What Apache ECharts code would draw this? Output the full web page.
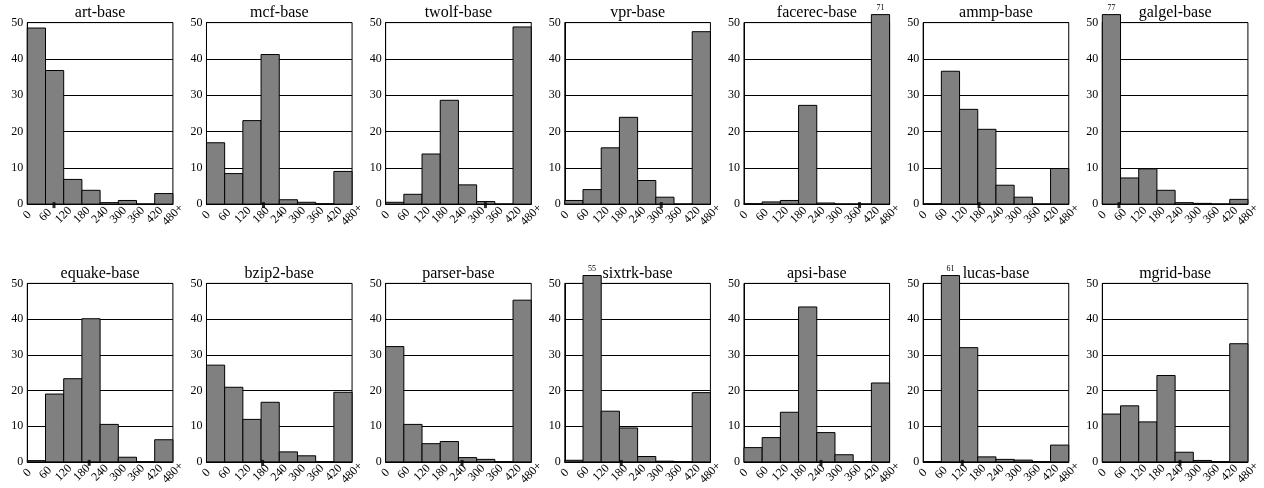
<!DOCTYPE html>
<html>
<head>
<meta charset="utf-8">
<script src="https://cdn.jsdelivr.net/npm/echarts@6/dist/echarts.min.js"></script>
<style>
html,body{margin:0;padding:0;background:#fff;}
#chart{width:1264px;height:488px;}
</style>
</head>
<body>
<div id="chart"></div>
<script>
// bin edges (seconds) and tick labels
const binStarts = [0, 60, 120, 180, 240, 300, 360, 420];
const binWidth = 60;
const tickLabels = { 0:'0', 60:'60', 120:'120', 180:'180', 240:'240', 300:'300', 360:'360', 420:'420', 480:'480+' };

const titles = ['art-base','mcf-base','twolf-base','vpr-base','facerec-base','ammp-base','galgel-base',
                'equake-base','bzip2-base','parser-base','sixtrk-base','apsi-base','lucas-base','mgrid-base'];

// histogram values (percent) per benchmark
const art     = [48.5, 36.8, 6.8, 3.8, 0.4, 1.0, 0, 2.9];
const mcf     = [16.9, 8.4, 23.0, 41.2, 1.2, 0.5, 0.1, 9.0];
const twolf   = [0.5, 2.7, 13.8, 28.6, 5.3, 0.7, 0, 48.8];
const vpr     = [1.0, 4.0, 15.5, 23.9, 6.5, 1.9, 0, 47.5];
const facerec = [0.1, 0.6, 1.0, 27.2, 0.3, 0, 0, 71];
const ammp    = [0.1, 36.6, 26.1, 20.6, 5.2, 1.9, 0, 9.8];
const galgel  = [77, 7.2, 9.7, 3.8, 0.4, 0.2, 0, 1.3];
const equake  = [0.35, 19.0, 23.3, 40.1, 10.5, 1.3, 0, 6.2];
const bzip2   = [27.1, 20.9, 11.9, 16.7, 2.8, 1.7, 0, 19.5];
const parser  = [32.3, 10.5, 5.1, 5.7, 1.2, 0.7, 0, 45.3];
const sixtrk  = [0.45, 55, 14.2, 9.5, 1.5, 0.2, 0, 19.4];
const apsi    = [4.0, 6.8, 13.9, 43.4, 8.2, 2.0, 0, 22.1];
const lucas   = [0.1, 61, 32.0, 1.4, 0.7, 0.5, 0, 4.7];
const mgrid   = [13.4, 15.7, 11.2, 24.2, 2.7, 0.4, 0, 33.1];

// marker position on the x-axis (mean) per benchmark
const markers = [88, 188, 329, 318, 381, 184, 55, 204, 185, 252, 186, 254, 129, 256];

const allSeries = [art, mcf, twolf, vpr, facerec, ammp, galgel, equake, bzip2, parser, sixtrk, apsi, lucas, mgrid];

const yMax = 50;
const yCap = 52.2;   // bars above the axis maximum are truncated here and labelled
const FONT = 'Liberation Serif, Times New Roman, serif';

const chart = echarts.init(document.getElementById('chart'), null, {renderer: 'canvas'});

const colLeft0 = 27.3, colStep = 179.17, plotW = 145.6;
const rowTop = [22.6, 283.4], plotH = 181.5;

const grids = [], xAxes = [], yAxes = [], series = [], titleArr = [];

allSeries.forEach((vals, i) => {
  const r = Math.floor(i / 7), c = i % 7;
  const left = colLeft0 + c * colStep;
  const top = rowTop[r];
  grids.push({ left: left, top: top, width: plotW, height: plotH, show: true,
               borderColor: '#000', borderWidth: 1, backgroundColor: 'transparent', containLabel: false });
  titleArr.push({ text: titles[i], left: left + plotW / 2, top: top - 18, textAlign: 'center', padding: 0,
                  textStyle: { fontFamily: FONT, fontSize: 16, fontWeight: 'normal', color: '#000' } });
  xAxes.push({ type: 'value', gridIndex: i, min: 0, max: 480, interval: 60,
               axisLine: { show: true, onZero: false, lineStyle: { color: '#000', width: 1 } },
               axisTick: { show: false }, splitLine: { show: false },
               axisLabel: { rotate: 45, margin: 11, align: 'center', verticalAlign: 'middle',
                            fontFamily: FONT, fontSize: 12, color: '#000',
                            formatter: v => tickLabels[v] } });
  yAxes.push({ type: 'value', gridIndex: i, min: 0, max: yMax, interval: 10,
               axisLine: { show: true, lineStyle: { color: '#000', width: 1 } },
               axisTick: { show: false },
               splitLine: { show: true, lineStyle: { color: '#000', width: 1 } },
               axisLabel: { margin: 4, fontFamily: FONT, fontSize: 12, color: '#000' } });
  const data = vals.map((v, k) => [binStarts[k], binStarts[k] + binWidth, v]);
  series.push({
    type: 'custom', xAxisIndex: i, yAxisIndex: i, clip: false, z: 3,
    data: data,
    renderItem: function (params, api) {
      const x0 = api.value(0), x1 = api.value(1), v = api.value(2);
      const p0 = api.coord([x0, 0]);
      const p1 = api.coord([x1, Math.min(v, yCap)]);
      const children = [{
        type: 'rect',
        shape: { x: p0[0], y: p1[1], width: p1[0] - p0[0], height: p0[1] - p1[1] },
        style: { fill: '#808080', stroke: '#000', lineWidth: 1 }
      }];
      if (v > yMax) {
        children.push({
          type: 'text',
          style: { text: String(v), x: (p0[0] + p1[0]) / 2, y: p1[1] - 3,
                   align: 'center', verticalAlign: 'bottom',
                   font: '8px ' + FONT, fill: '#000' }
        });
      }
      return { type: 'group', children: children };
    }
  });
  series.push({
    type: 'scatter', xAxisIndex: i, yAxisIndex: i, clip: false, z: 5,
    symbol: 'rect', symbolSize: [3, 6], symbolOffset: [0, 1],
    itemStyle: { color: '#000' },
    data: [[markers[i], 0]], silent: true
  });
});

chart.setOption({
  animation: false,
  backgroundColor: '#fff',
  title: titleArr,
  grid: grids,
  xAxis: xAxes,
  yAxis: yAxes,
  series: series
});
</script>
</body>
</html>
